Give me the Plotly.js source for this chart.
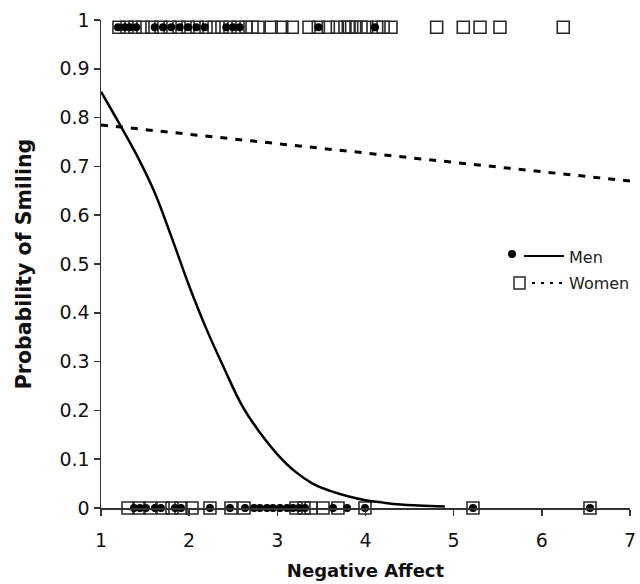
<!DOCTYPE html>
<html>
<head>
<meta charset="utf-8">
<script src="https://cdn.plot.ly/plotly-3.0.1.min.js"></script>
<style>html,body{margin:0;padding:0;background:#fff;}#chart{width:640px;height:584px;}</style>
</head>
<body>
<div id="chart"></div>
<script>
// Observed outcomes (smiled = plotted at top row, not smiled = bottom row)
const menSmiledX = [1.193,1.269,1.326,1.40,1.609,1.703,1.797,1.893,1.987,2.081,2.176,2.421,2.497,2.573,3.465,4.108];
const menSmiledY = menSmiledX.map(() => 0.985);
const womenSmiledX = [1.204,1.295,1.386,1.476,1.578,1.680,1.783,1.885,1.987,2.089,2.191,2.282,2.372,2.463,2.554,2.645,2.713,2.781,
  2.93,3.05,3.17,3.359,3.465,3.578,3.68,3.767,3.805,3.843,3.892,3.949,4.013,4.127,4.2,4.289,
  4.807,5.109,5.299,5.525,6.243];
const womenSmiledY = womenSmiledX.map(() => 0.985);

const menNotX = [1.374,1.442,1.510,1.612,1.680,1.839,1.907,2.236,2.463,2.633,2.735,2.803,2.883,2.951,3.030,3.109,3.178,3.246,3.314,3.632,3.791,3.994,5.219,6.546];
const menNotY = menNotX.map(() => 0);
const womenNotX = [1.306,1.431,1.556,1.703,1.805,1.907,2.032,2.236,2.474,2.622,3.212,3.302,3.382,3.518,3.688,3.994,5.219,6.546];
const womenNotY = womenNotX.map(() => 0);

// Fitted probability curves
const menCurveX = [1,1.2,1.4,1.6,1.8,2.0,2.2,2.4,2.6,2.8,3.0,3.2,3.4,3.6,3.8,4.0,4.2,4.4,4.6,4.9];
const menCurveY = [0.853,0.79,0.725,0.65,0.555,0.455,0.365,0.285,0.21,0.155,0.11,0.075,0.05,0.035,0.024,0.016,0.011,0.007,0.005,0.003];
const womenCurveX = [1,7];
const womenCurveY = [0.785,0.67];

const xTicks = [1,2,3,4,5,6,7];
const yTicks = [0,0.1,0.2,0.3,0.4,0.5,0.6,0.7,0.8,0.9,1];
const yTickLabels = ['0','0.1','0.2','0.3','0.4','0.5','0.6','0.7','0.8','0.9','1'];

const sq = {symbol:'square-open', size:12, color:'#2a2a2a', line:{width:1.6, color:'#2a2a2a'}};
const dot = {symbol:'circle', size:8, color:'#000'};

const traces = [
  {x:womenSmiledX.concat(womenNotX), y:womenSmiledY.concat(womenNotY), mode:'markers', marker:sq, showlegend:false, cliponaxis:false},
  {x:menSmiledX.concat(menNotX), y:menSmiledY.concat(menNotY), mode:'markers', marker:dot, showlegend:false, cliponaxis:false},
  {x:womenCurveX, y:womenCurveY, mode:'lines', line:{color:'#000', width:3, dash:'7px,8px'}, showlegend:false},
  {x:menCurveX, y:menCurveY, mode:'lines', line:{color:'#000', width:2.5, shape:'spline', smoothing:1.2}, showlegend:false}
];

const F = 'DejaVu Sans, Verdana, sans-serif';
// paper coordinate helpers for the hand-drawn legend (plot area 101..630 x 20..508 px)
const px = v => (v - 101) / 529;
const py = v => (508 - v) / 488;

const layout = {
  width:640, height:584,
  margin:{l:101, r:10, t:20, b:76},
  paper_bgcolor:'#fff', plot_bgcolor:'#fff',
  showlegend:false,
  xaxis:{range:[1,7], tickvals:xTicks, ticks:'outside', ticklen:6, tickwidth:1.5, tickcolor:'#333',
    showline:true, linecolor:'#333', linewidth:1.5, showgrid:false, zeroline:false,
    ticklabelstandoff:9,
    tickfont:{family:F, size:19, color:'#111'},
    title:{text:'<b>Negative Affect</b>', font:{family:F, size:18, color:'#111'}, standoff:14}},
  yaxis:{range:[0,1], tickvals:yTicks, ticktext:yTickLabels, ticks:'outside', ticklen:6, tickwidth:1.5, tickcolor:'#333',
    showline:true, linecolor:'#333', linewidth:1.5, showgrid:false, zeroline:false,
    tickfont:{family:F, size:19, color:'#111'},
    title:{text:'<b>Probability of Smiling</b>', font:{family:F, size:20.5, color:'#111'}, standoff:22}},
  shapes:[
    {type:'circle', xref:'paper', yref:'paper', x0:px(508), x1:px(516), y0:py(258), y1:py(250), fillcolor:'#000', line:{width:0}},
    {type:'line', xref:'paper', yref:'paper', x0:px(524), x1:px(564), y0:py(256), y1:py(256), line:{color:'#000', width:2.2}},
    {type:'rect', xref:'paper', yref:'paper', x0:px(514), x1:px(525), y0:py(289), y1:py(277), line:{color:'#2a2a2a', width:1.5}},
    {type:'line', xref:'paper', yref:'paper', x0:px(532), x1:px(564), y0:py(283), y1:py(283), line:{color:'#000', width:2, dash:'3px,6px'}}
  ],
  annotations:[
    {xref:'paper', yref:'paper', x:px(567), y:py(257), xanchor:'left', yanchor:'middle', text:'Men', showarrow:false, font:{family:F, size:16, color:'#222'}},
    {xref:'paper', yref:'paper', x:px(567), y:py(284), xanchor:'left', yanchor:'middle', text:'Women', showarrow:false, font:{family:F, size:16, color:'#222'}}
  ]
};
Plotly.newPlot('chart', traces, layout, {displayModeBar:false, staticPlot:true});
</script>
</body>
</html>
